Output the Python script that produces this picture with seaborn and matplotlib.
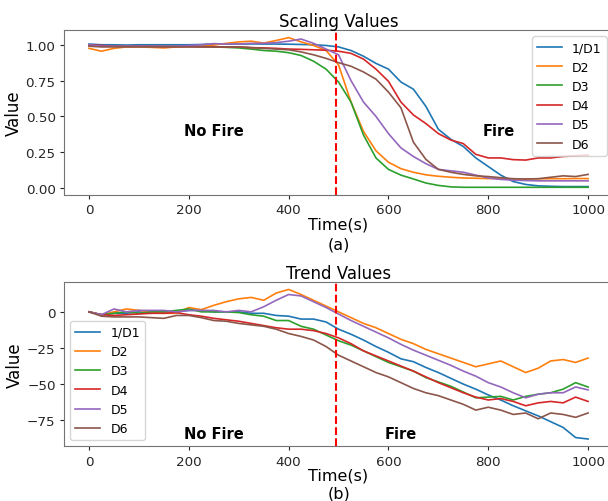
import pandas as pd
import seaborn as sns
import matplotlib.pyplot as plt

# time axis (s), sampled every 25 s
time_s = list(range(0, 1001, 25))
series_names = ["1/D1", "D2", "D3", "D4", "D5", "D6"]
fire_start = 494
x_ticks = [0, 200, 400, 600, 800, 1000]
scale_ticks = [0.0, 0.25, 0.5, 0.75, 1.0]
trend_ticks = [-75, -50, -25, 0]

# Scaling values
scale_d1 = [1.005, 1.0, 1.0, 0.998, 1.0, 1.0, 1.0, 1.0, 1.0, 1.002, 1.005, 1.005, 1.005, 1.006,
            1.005, 1.005, 1.004, 1.002, 1.0, 0.995, 0.985, 0.96, 0.92, 0.87, 0.83, 0.74, 0.69,
            0.57, 0.41, 0.34, 0.29, 0.21, 0.15, 0.09, 0.045, 0.025, 0.015, 0.012, 0.01, 0.01, 0.01]
scale_d2 = [0.975, 0.955, 0.975, 0.985, 0.985, 0.982, 0.978, 0.985, 0.99, 0.99, 0.998, 1.01,
            1.02, 1.025, 1.012, 1.03, 1.05, 1.02, 0.995, 0.96, 0.86, 0.6, 0.395, 0.26, 0.18, 0.135,
            0.11, 0.092, 0.082, 0.075, 0.07, 0.068, 0.066, 0.065, 0.064, 0.064, 0.064, 0.065,
            0.065, 0.066, 0.066]
scale_d3 = [0.995, 0.99, 0.99, 0.99, 0.99, 0.99, 0.99, 0.99, 0.99, 0.988, 0.985, 0.982, 0.978,
            0.97, 0.96, 0.955, 0.945, 0.925, 0.885, 0.83, 0.74, 0.6, 0.37, 0.21, 0.13, 0.09, 0.063,
            0.035, 0.018, 0.008, 0.005, 0.005, 0.005, 0.005, 0.005, 0.005, 0.005, 0.005, 0.005,
            0.005, 0.005]
scale_d4 = [1.0, 0.995, 0.99, 0.99, 0.99, 0.99, 0.988, 0.988, 0.987, 0.986, 0.986, 0.985, 0.985,
            0.98, 0.978, 0.975, 0.97, 0.968, 0.965, 0.962, 0.955, 0.94, 0.9, 0.83, 0.745, 0.6,
            0.51, 0.45, 0.38, 0.335, 0.31, 0.235, 0.21, 0.21, 0.198, 0.195, 0.21, 0.21, 0.22,
            0.225, 0.23]
scale_d5 = [1.0, 0.99, 0.99, 0.99, 0.99, 0.99, 0.99, 0.99, 0.995, 1.0, 1.008, 1.005, 1.005, 1.01,
            1.01, 1.015, 1.025, 1.04, 1.01, 0.97, 0.93, 0.75, 0.6, 0.5, 0.38, 0.28, 0.22, 0.17,
            0.13, 0.12, 0.11, 0.09, 0.07, 0.06, 0.055, 0.052, 0.05, 0.05, 0.05, 0.05, 0.05]
scale_d6 = [0.99, 0.985, 0.985, 0.985, 0.985, 0.985, 0.985, 0.985, 0.985, 0.985, 0.985, 0.985,
            0.985, 0.98, 0.975, 0.97, 0.965, 0.95, 0.93, 0.905, 0.875, 0.85, 0.81, 0.76, 0.67,
            0.56, 0.32, 0.2, 0.13, 0.11, 0.095, 0.085, 0.08, 0.072, 0.065, 0.063, 0.065, 0.075,
            0.085, 0.08, 0.095]

# Trend values
trend_d1 = [0, -2, -1, -1, 0, -1, 0, 0, 1, 1, 0, 0, 0, -1, -1, -2.5, -3, -5, -5, -7, -12, -15.5,
            -19.5, -24, -28, -32.5, -34.5, -38.5, -42, -46, -50, -53.5, -57.5, -61, -65, -68.5,
            -72, -76, -80, -87, -88]
trend_d2 = [0, -2, 0, 2, 1, 0, -1, -1, 3, 1.5, 4.5, 7, 9, 10, 8, 13, 15.5, 12, 8, 4, 0, -4, -8,
            -11, -15, -19, -22, -26, -29, -32, -35, -38, -36, -34, -38, -42, -39, -34, -33, -35,
            -32]
trend_d3 = [0, -2, -1, 0, -1, 0, 0, 1, 2, 0, 0, 0, -0.5, -2, -3, -6, -6, -10, -12, -16, -20, -23,
            -27, -31, -35, -38, -41, -45.5, -48.5, -51.5, -55.5, -59.5, -59, -58.5, -61, -58.5,
            -57, -56, -53.5, -49, -52]
trend_d4 = [0, -2, -2.5, -2, -1.5, -1, -1, -0.5, -2, -3, -4.5, -5.5, -6.5, -8, -9.5, -11, -12,
            -12, -13, -15, -18, -22, -27, -30.5, -34, -37.5, -41, -45, -49, -52.5, -56, -59, -61,
            -60, -62, -65, -63, -62, -63, -59, -62]
trend_d5 = [0, -2, 2, 0, 1, 1, 1, 0, 1, 1, 1, 0, 1, 0, 3.5, 8, 12, 11, 7, 3, -1.5, -6, -10, -14,
            -18, -22.5, -26.5, -30, -33.5, -37, -41, -44.5, -49, -52, -56, -59.5, -57, -56, -56,
            -52, -54]
trend_d6 = [0, -3, -3.5, -3.5, -3.5, -4, -4.5, -2.5, -2.5, -4, -6, -6.5, -8, -9, -10, -12, -15,
            -17, -19.5, -24, -30, -34, -38, -42, -45, -49, -53, -56, -58, -61, -64, -68, -66, -68,
            -71, -70, -74, -70, -71, -73, -70]


def long_form(columns):
    frames = []
    for name, vals in zip(series_names, columns):
        frames.append(pd.DataFrame({"Time": time_s, "Value": vals, "Sensor": name}))
    return pd.concat(frames, ignore_index=True)


df_scale = long_form([scale_d1, scale_d2, scale_d3, scale_d4, scale_d5, scale_d6])
df_trend = long_form([trend_d1, trend_d2, trend_d3, trend_d4, trend_d5, trend_d6])

palette = sns.color_palette("tab10", 6)

fig = plt.figure(figsize=(6.08, 5.02), dpi=100)
ax1 = fig.add_axes([0.1053, 0.610, 0.903, 0.328])
ax2 = fig.add_axes([0.1053, 0.1086, 0.903, 0.3277])

panels = [
    (ax1, df_scale, "Scaling Values", "upper right", [(250, 0.4, "No Fire"), (822, 0.4, "Fire")],
     scale_ticks, ["%.2f" % v for v in scale_ticks], "(a)", 0.512),
    (ax2, df_trend, "Trend Values", "lower left", [(250, -84, "No Fire"), (624, -84, "Fire")],
     trend_ticks, [str(v).replace("-", "\u2212") for v in trend_ticks], "(b)", 0.0),
]

for ax, df, title, loc, notes, yt, ytl, tag, tag_y in panels:
    sns.lineplot(data=df, x="Time", y="Value", hue="Sensor", hue_order=series_names,
                 palette=palette, linewidth=1.2, ax=ax)
    ax.axvline(fire_start, color="red", linestyle="--", linewidth=1.5)
    for x, y, s in notes:
        ax.text(x, y, s, ha="center", va="center", fontsize=10.5, fontweight="bold")
    ax.set_title(title, fontsize=12, pad=3)
    ax.set_xlabel("Time(s)", fontsize=11.5, labelpad=0)
    ax.set_ylabel("Value", fontsize=12, labelpad=2)
    ax.set_xticks(x_ticks)
    ax.set_yticks(yt)
    ax.set_yticklabels(ytl)
    ax.tick_params(labelsize=9.7, colors="0.15", length=3, pad=3)
    for sp in ax.spines.values():
        sp.set_color("0.45")
    old = ax.get_legend()
    handles = old.legend_handles
    labels = [t.get_text() for t in old.get_texts()]
    ax.legend(handles, labels, loc=loc, fontsize=9)
    fig.text(0.557, tag_y, tag, ha="center", va="bottom" if tag == "(b)" else "center", fontsize=11.5)

fig.savefig("out.png", dpi=100)
